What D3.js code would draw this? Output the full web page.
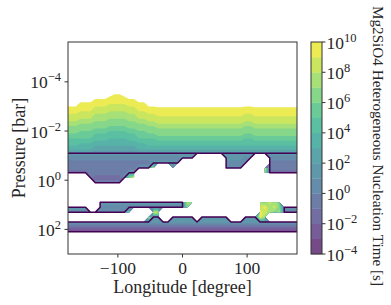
<!DOCTYPE html>
<html>
<head>
<meta charset="utf-8">
<script src="https://cdn.jsdelivr.net/npm/d3@7"></script>
<style>
  body { margin: 0; background: #fff; }
  text { font-family: "Liberation Serif", "DejaVu Serif", serif; fill: #262626; }
</style>
</head>
<body>
<svg id="chart" width="391" height="305"></svg>
<script>
// model grid: longitude (deg) columns and log10 pressure (bar) rows
const lonGrid = d3.range(-180, 180.1, 7.5);     // 49 columns
const logPGrid = d3.range(-3.9, 2.71, 0.2);     // 34 rows

// log10 nucleation time per cell, half-decade steps from 1e-4 s:
// '0' = -4, '1' = -3.5, ... 's' = 10, 'u' = 11 ; '.' = no value
const timeCodes = "0123456789abcdefghijklmnopqrstu";
const timeRows = [
  "uuuuuuuuuuuuuuuuuuu" + "uuuuuuuuuuuuuuuuuu" + "uu" + "uuuuuuuuuu",
  "uuuuuuuuuuuuuuuuuuu" + "uuuuuuuuuuuuuuuuuu" + "uu" + "uuuuuuuuuu",
  "uuuuuuuuutsstuuuuuu" + "uuuuuuuuuuuuuuuuuu" + "uu" + "uuuuuuuuuu",
  "uuuuuusssrrrrssuuuu" + "uuuuuuuuuuuuuuuuuu" + "uu" + "uuuuuuuuuu",
  "tttrrrrrrqqqqrrrrtt" + "uuuuuuuuuuuuuuuuuu" + "tt" + "uuuuuuuuuu",
  "rrrrrrppppppppprrrr" + "rrrrrrrrrrrrrrrrrr" + "rr" + "rrrrrrrrrr",
  "qqqpppooonnnnooppqq" + "rrrrrrrrrrrrrrrrrr" + "qq" + "rrrrrrrrrr",
  "pppooonnnmmmmnnoopp" + "pppppppppppppppppp" + "pp" + "pppppppppp",
  "nnnmmmlllllllllmmnn" + "oooooooooooooooooo" + "nn" + "oooooooooo",
  "llllllkkkjjjjkkllll" + "mmmmmmmmmmmmmmmmmm" + "ll" + "mmmmmmmmmm",
  "kkkjjjiiihhhhiijjkk" + "llllllllllllllllll" + "kk" + "llllllllll",
  "iiiiiihhhgggghhiiii" + "jjjjjjjjjjjjjjjjjj" + "ii" + "jjjjjjjjjj",
  "hhhgggfffffffffgghh" + "hhhhhhhhhhhhhhhhhh" + "hh" + "hhhhhhhhhh",
  "ffffffdddddddddffff" + "ffffffffffffffffff" + "ff" + "ffffffffff",
  "bbbbbbbbbbbbbbbbbbbbbbbbbbbbbbbbbbbbbbbbbbbbbbbbb",
  "999999999999999999999999" + "bbb" + "......" + "bbbb9b" + "..." + "9999999",
  "777777777777777777" + "bbbbbb" + "........." + "9999b" + "...." + "7777777",
  "777777777777777" + "bbbp...n" + ".........." + "9999" + "....p" + "7777777",
  "5555577777777bb" + ".........................." + "n" + "5555555",
  ".....7555555blr..................................",
  "......777777.....................................",
  ".................................................",
  ".................................................",
  ".................................................",
  "......." + "bbbbbbbbbbbbbbbbbb" + "np" + "............." + "nlpnl" + "....",
  "bbbbb.." + "999999999999999999" + "l" + ".............." + "prnpl" + "9999",
  "9999999999999l....pp" + "...................." + "rpnln" + "9999",
  ".................pbb..bbbbb.bbbbbb...bbb" + "rn" + ".......",
  "bbbbbbbbbbbbbbbbbbbbbbbbbbbbbbbbbbbbbbbbbbbbbbbbb",
  "5555555555555555555555555555555555555555555555555",
  "1111111111111111111111111111111111111111111111111",
  ".................................................",
  ".................................................",
  "................................................."
];
// cells inside the outlined nucleation region ('#')
const regionRows = [
  ".................................................",
  ".................................................",
  ".................................................",
  ".................................................",
  ".................................................",
  ".................................................",
  ".................................................",
  ".................................................",
  ".................................................",
  ".................................................",
  ".................................................",
  ".................................................",
  ".................................................",
  ".................................................",
  "#################################################",
  "###########################" + "......" + "######" + "..." + "#######",
  "########################" + "........." + "#####" + "...." + "#######",
  "##################" + "..............." + "####" + "....." + "#######",
  "###############" + "..........................." + "#######",
  ".....########....................................",
  "......######.....................................",
  ".................................................",
  ".................................................",
  ".................................................",
  ".......##################........................",
  "#####..##################" + "...................." + "####",
  "#############" + "................................" + "####",
  "..................##..#####.######...###.........",
  "#################################################",
  "#################################################",
  "#################################################",
  ".................................................",
  ".................................................",
  "................................................."
];

const levels = d3.range(-4, 11);               // contour levels, log10 s
const cbarTicks = [-4, -2, 0, 2, 4, 6, 8, 10];
const xTicks = [-100, 0, 100];
const yTicks = [-4, -2, 0, 2];

const plot = { left: 68, right: 297, top: 42, bottom: 254 };
const nx = lonGrid.length, ny = logPGrid.length;

const x = d3.scaleLinear().domain([-177.1875, 177.1875]).range([plot.left, plot.right]);
const y = d3.scaleLog().domain([Math.pow(10, -5.62), 1e3]).range([plot.top, plot.bottom]);

const timeValues = [], regionValues = [];
timeRows.forEach((row, r) => {
  for (let c = 0; c < nx; c++) {
    const ch = row[c] || ".";
    timeValues.push(ch === "." ? NaN : -4 + timeCodes.indexOf(ch) * 0.5);
    regionValues.push(regionRows[r][c] === "#" ? 1 : 0);
  }
});

// blend viridis with white (alpha 0.75) so the stacked fills stay flat
function bandColor(i) {
  const c = d3.rgb(d3.interpolateViridis((i + 0.5) / 14));
  const a = 0.75;
  return d3.rgb(c.r * a + 255 * (1 - a), c.g * a + 255 * (1 - a), c.b * a + 255 * (1 - a)).formatHex();
}

const gridLon = d3.scaleLinear().domain([0.5, nx - 0.5]).range([lonGrid[0], lonGrid[nx - 1]]);
const gridLogP = d3.scaleLinear().domain([0.5, ny - 0.5]).range([logPGrid[0], logPGrid[ny - 1]]);
const path = d3.geoPath(d3.geoTransform({
  point(gx, gy) { this.stream.point(x(gridLon(gx)), y(Math.pow(10, gridLogP(gy)))); }
}));

const svg = d3.select("#chart");
svg.append("defs").append("clipPath").attr("id", "clip")
  .append("rect")
  .attr("x", plot.left).attr("y", plot.top)
  .attr("width", plot.right - plot.left).attr("height", plot.bottom - plot.top);

const field = svg.append("g").attr("clip-path", "url(#clip)");
const contours = d3.contours().size([nx, ny]);

levels.forEach((lv, i) => {
  field.append("path")
    .attr("d", path(contours.contour(timeValues, lv)))
    .attr("fill", i < 14 ? bandColor(i) : "#fff");
});
// everything above the grid's second row is beyond the top level
field.append("rect")
  .attr("x", plot.left).attr("y", plot.top)
  .attr("width", plot.right - plot.left)
  .attr("height", y(Math.pow(10, logPGrid[1])) - plot.top)
  .attr("fill", "#fff");

field.append("path")
  .attr("d", path(contours.contour(regionValues, 0.999)))
  .attr("fill", "none")
  .attr("stroke", "#440154")
  .attr("stroke-width", 1.5)
  .attr("stroke-linejoin", "round");

// frame
svg.append("rect")
  .attr("x", plot.left).attr("y", plot.top)
  .attr("width", plot.right - plot.left).attr("height", plot.bottom - plot.top)
  .attr("fill", "none").attr("stroke", "#333").attr("stroke-width", 1);

// x axis
const xAxis = svg.append("g");
xTicks.forEach(v => {
  xAxis.append("line")
    .attr("x1", x(v)).attr("x2", x(v))
    .attr("y1", plot.bottom).attr("y2", plot.bottom + 3.5)
    .attr("stroke", "#333");
  xAxis.append("text")
    .attr("x", x(v)).attr("y", 274)
    .attr("text-anchor", "middle")
    .attr("font-size", 17.5)
    .text(d3.format("d")(v));
});
svg.append("text")
  .attr("x", (plot.left + plot.right) / 2).attr("y", 293)
  .attr("text-anchor", "middle").attr("font-size", 18)
  .text("Longitude [degree]");

// y axis
const yAxis = svg.append("g");
yTicks.forEach(e => {
  const yy = y(Math.pow(10, e));
  yAxis.append("line")
    .attr("x1", plot.left - 3.5).attr("x2", plot.left)
    .attr("y1", yy).attr("y2", yy)
    .attr("stroke", "#333");
  const t = yAxis.append("text")
    .attr("x", 61).attr("y", yy + 6.5)
    .attr("text-anchor", "end")
    .attr("font-size", 17.5);
  t.append("tspan").text("10");
  t.append("tspan").attr("dy", -7).attr("font-size", 12.5)
    .text(String(e).replace("-", "\u2212"));
});
svg.append("text")
  .attr("transform", `translate(25,${(plot.top + plot.bottom) / 2}) rotate(-90)`)
  .attr("text-anchor", "middle").attr("font-size", 18)
  .text("Pressure [bar]");

// colour bar
const cb = { left: 311, width: 11 };
const cy = d3.scaleLinear().domain([-4, 10]).range([plot.bottom, plot.top]);
const cbar = svg.append("g");
d3.range(14).forEach(i => {
  cbar.append("rect")
    .attr("x", cb.left).attr("width", cb.width)
    .attr("y", cy(levels[i + 1])).attr("height", cy(levels[i]) - cy(levels[i + 1]) + 0.3)
    .attr("fill", bandColor(i));
});
cbar.append("rect")
  .attr("x", cb.left).attr("y", plot.top)
  .attr("width", cb.width).attr("height", plot.bottom - plot.top)
  .attr("fill", "none").attr("stroke", "#333").attr("stroke-width", 1);
cbarTicks.forEach(e => {
  cbar.append("line")
    .attr("x1", cb.left + cb.width).attr("x2", cb.left + cb.width + 3.5)
    .attr("y1", cy(e)).attr("y2", cy(e))
    .attr("stroke", "#333");
  const t = cbar.append("text")
    .attr("x", cb.left + cb.width + 4.5).attr("y", cy(e) + 6.5)
    .attr("font-size", 17.5);
  t.append("tspan").text("10");
  t.append("tspan").attr("dy", -7).attr("font-size", 12.5)
    .text(String(e).replace("-", "\u2212"));
});
svg.append("text")
  .attr("transform", `translate(372.5,146) rotate(90)`)
  .attr("text-anchor", "middle").attr("font-size", 15.2)
  .text("Mg2SiO4 Heterogeneous Nucleation Time [s]");
</script>
</body>
</html>
